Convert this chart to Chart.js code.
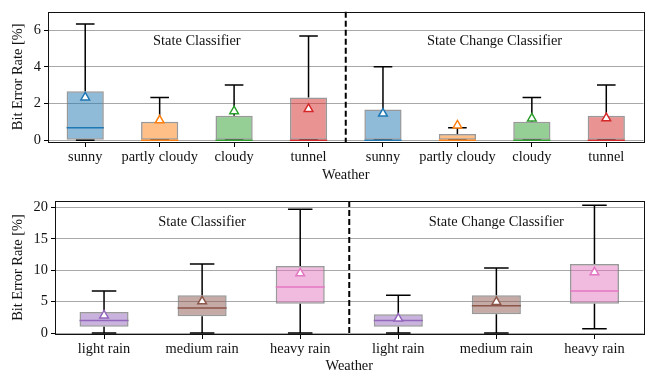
<!DOCTYPE html>
<html><head><meta charset="utf-8">
<script src="https://cdn.jsdelivr.net/npm/chart.js@4"></script>
<style>
body{margin:0;background:#fff;}
#c1{position:absolute;left:0;top:0;}
#c2{position:absolute;left:0;top:188px;}
</style></head><body>
<canvas id="c1" width="650" height="188"></canvas>
<canvas id="c2" width="650" height="187"></canvas>
<script>
// ---------- data ----------
const groupTitles = ['State Classifier', 'State Change Classifier'];

const topCategories = ['sunny','partly cloudy','cloudy','tunnel','sunny','partly cloudy','cloudy','tunnel'];
const topLowerWhisker = [0, 0, 0, 0, 0, 0, 0, 0];
const topQ1           = [0, 0, 0, 0, 0, 0, 0, 0];
const topMedian       = [0.67, 0, 0, 0, 0, 0, 0, 0];
const topQ3           = [2.67, 1.0, 1.33, 2.33, 1.67, 0.33, 1.0, 1.33];
const topUpperWhisker = [6.33, 2.33, 3.0, 5.67, 4.0, 0.67, 2.33, 3.0];
const topMean         = [2.33, 1.08, 1.58, 1.7, 1.45, 0.8, 1.18, 1.2];
const topYTicks = [0, 2, 4, 6];
const topYRange = [-0.1, 7];
const topTitleY = 5.41;

const bottomCategories = ['light rain','medium rain','heavy rain','light rain','medium rain','heavy rain'];
const bottomLowerWhisker = [0, 0, 0, 0, 0, 0.67];
const bottomQ1           = [1.0, 2.67, 4.67, 1.0, 3.0, 4.67];
const bottomMedian       = [2.0, 4.0, 7.33, 2.0, 4.33, 6.67];
const bottomQ3           = [3.33, 6.0, 10.67, 3.0, 6.0, 11.0];
const bottomUpperWhisker = [6.67, 11.0, 19.67, 6.0, 10.33, 20.33];
const bottomMean         = [2.8, 5.05, 9.5, 2.3, 4.95, 9.65];
const bottomYTicks = [0, 5, 10, 15, 20];
const bottomYRange = [-0.15, 21];
const bottomTitleY = 17.66;

const topColors = ['31,119,180','255,127,14','44,160,44','214,39,40','31,119,180','255,127,14','44,160,44','214,39,40'];
const bottomColors = ['148,103,189','140,86,75','227,119,194','148,103,189','140,86,75','227,119,194'];

const FONT = '"Liberation Serif", "Times New Roman", serif';
const FS = 14.4;

function boxPlugin(lw, q1, med, q3, uw, colors, titleY) {
  return {
    id: 'boxExtras',
    afterDatasetDraw(chart, args) {
      if (args.index !== 0) return;
      const ctx = chart.ctx, x = chart.scales.x, y = chart.scales.y;
      const step = x.getPixelForValue(1) - x.getPixelForValue(0);
      ctx.save();
      ctx.lineWidth = 1.5;
      for (let i = 0; i < q3.length; i++) {
        const cx = x.getPixelForValue(i);
        const cap = step * 0.125, half = step * 0.25;
        const yu = y.getPixelForValue(uw[i]), yl = y.getPixelForValue(lw[i]);
        ctx.strokeStyle = '#000';
        ctx.beginPath();
        ctx.moveTo(cx, y.getPixelForValue(q3[i])); ctx.lineTo(cx, yu);
        ctx.moveTo(cx, y.getPixelForValue(q1[i])); ctx.lineTo(cx, yl);
        ctx.moveTo(cx - cap, yu); ctx.lineTo(cx + cap, yu);
        ctx.moveTo(cx - cap, yl); ctx.lineTo(cx + cap, yl);
        ctx.stroke();
        const ym = y.getPixelForValue(med[i]);
        ctx.strokeStyle = 'rgb(' + colors[i] + ')';
        ctx.beginPath();
        ctx.moveTo(cx - half, ym); ctx.lineTo(cx + half, ym);
        ctx.stroke();
      }
      ctx.restore();
    },
    afterDraw(chart) {
      const ctx = chart.ctx, x = chart.scales.x, y = chart.scales.y, a = chart.chartArea;
      const n = q3.length, h = n / 2;
      ctx.save();
      const sx = (x.getPixelForValue(h - 1) + x.getPixelForValue(h)) / 2;
      ctx.strokeStyle = '#000'; ctx.lineWidth = 2; ctx.setLineDash([6, 3]);
      ctx.beginPath(); ctx.moveTo(sx, a.top); ctx.lineTo(sx, a.bottom); ctx.stroke();
      ctx.setLineDash([]);
      ctx.strokeStyle = '#111'; ctx.lineWidth = 1;
      ctx.strokeRect(Math.round(a.left) + 0.5, Math.round(a.top) + 0.5, Math.round(a.right - a.left), Math.round(a.bottom - a.top));
      ctx.fillStyle = '#111'; ctx.font = FS + 'px ' + FONT;
      ctx.textAlign = 'center'; ctx.textBaseline = 'middle';
      const ty = y.getPixelForValue(titleY);
      ctx.fillText(groupTitles[0], (x.getPixelForValue(0) + x.getPixelForValue(h - 1)) / 2, ty);
      ctx.fillText(groupTitles[1], (x.getPixelForValue(h) + x.getPixelForValue(n - 1)) / 2, ty);
      ctx.restore();
    }
  };
}

function makeChart(id, cats, lw, q1, med, q3, uw, mean, yTicks, yRange, colors, titleY, L) {
  return new Chart(document.getElementById(id), {
    type: 'bar',
    data: {
      labels: cats,
      datasets: [
        {
          type: 'bar', order: 2,
          data: cats.map((_, i) => [q1[i], q3[i]]),
          backgroundColor: colors.map(c => 'rgba(' + c + ',0.5)'),
          borderColor: 'rgba(128,128,128,0.8)', borderWidth: 1.5, borderSkipped: false,
          barPercentage: 0.5, categoryPercentage: 1
        },
        {
          type: 'line', order: 1, showLine: false,
          data: mean,
          pointStyle: 'triangle', pointRadius: 5,
          pointBackgroundColor: '#fff',
          pointBorderColor: colors.map(c => 'rgb(' + c + ')'),
          pointBorderWidth: 1.5
        }
      ]
    },
    options: {
      responsive: false, animation: false, devicePixelRatio: 1,
      layout: { padding: { top: L.top, right: 3, left: 0, bottom: 0 } },
      plugins: { legend: { display: false }, tooltip: { enabled: false } },
      scales: {
        x: {
          offset: true,
          grid: { offset: false, drawOnChartArea: false, tickLength: 5, tickColor: '#000', lineWidth: 1 },
          border: { display: false },
          ticks: { color: '#111', font: { family: FONT, size: FS }, padding: 2, maxRotation: 0, autoSkip: false },
          title: { display: true, text: 'Weather', color: '#111', font: { family: FONT, size: FS }, padding: { top: 0, bottom: L.xtp } },
          afterFit(s) { s.height = L.xh; }
        },
        y: {
          min: yRange[0], max: yRange[1],
          afterBuildTicks(s) { s.ticks = yTicks.map(v => ({ value: v })); },
          grid: { color: '#a8a8a8', lineWidth: 1, tickLength: 4, tickColor: '#000' },
          border: { display: false },
          ticks: { color: '#111', font: { family: FONT, size: FS }, padding: 3 },
          title: { display: true, text: 'Bit Error Rate [%]', color: '#111', font: { family: FONT, size: FS }, padding: { top: 10, bottom: 0 } },
          afterFit(s) { s.width = L.yw; }
        }
      }
    },
    plugins: [boxPlugin(lw, q1, med, q3, uw, colors, titleY)]
  });
}

makeChart('c1', topCategories, topLowerWhisker, topQ1, topMedian, topQ3, topUpperWhisker, topMean,
  topYTicks, topYRange, topColors, topTitleY, { top: 8, xh: 46, xtp: 4, yw: 48 });
makeChart('c2', bottomCategories, bottomLowerWhisker, bottomQ1, bottomMedian, bottomQ3, bottomUpperWhisker, bottomMean,
  bottomYTicks, bottomYRange, bottomColors, bottomTitleY, { top: 13, xh: 41, xtp: 0, yw: 55 });
</script>
</body></html>
